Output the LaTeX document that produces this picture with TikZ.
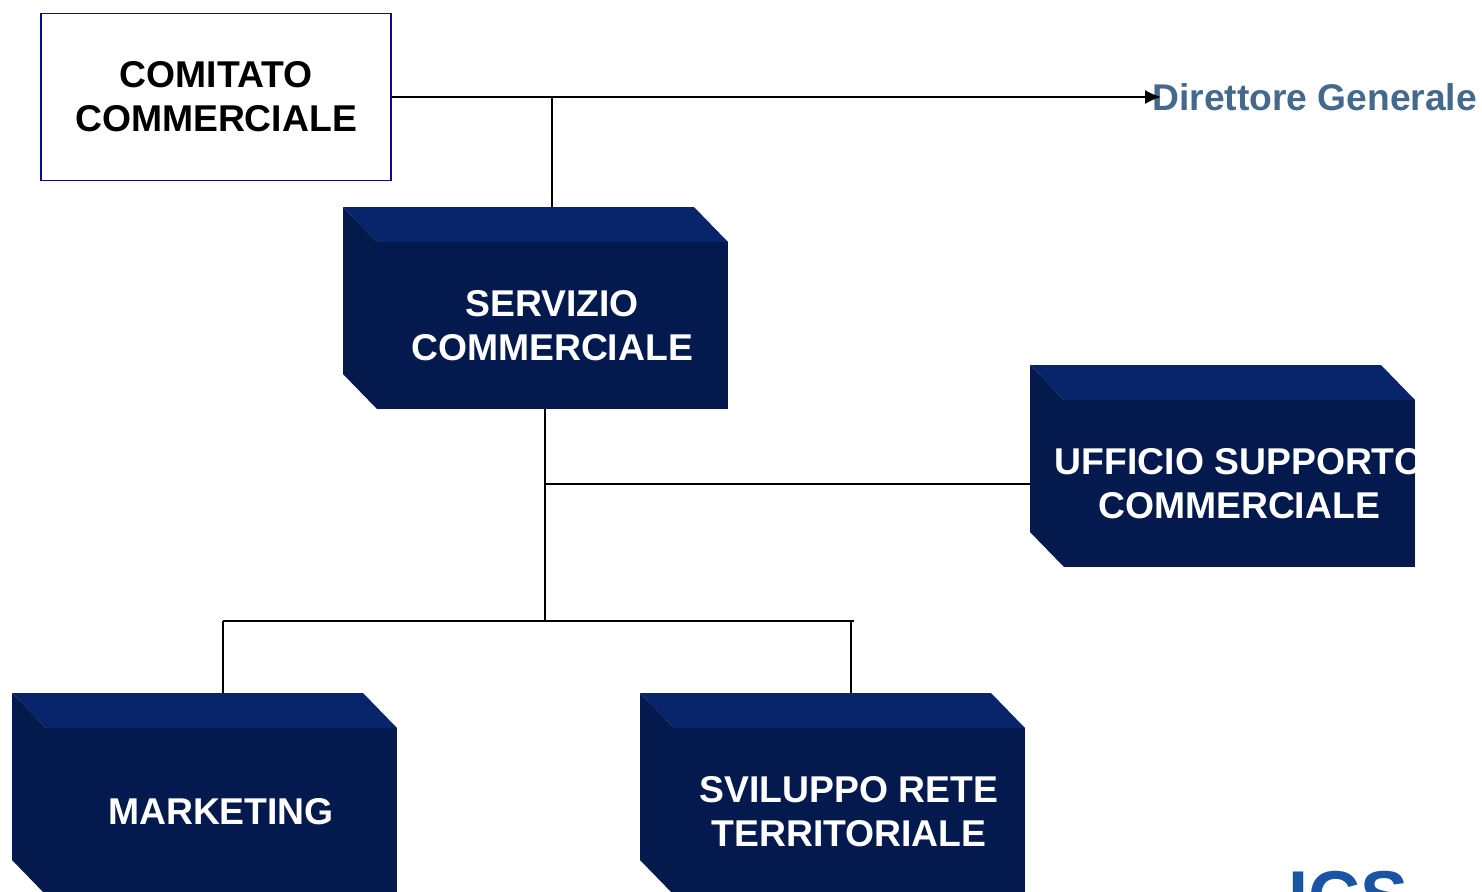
\documentclass[tikz,border=0pt]{standalone}
\usepackage{fontspec}
\setmainfont{Liberation Sans}
\usepackage{xcolor}
\definecolor{frontblue}{HTML}{041A4E}
\definecolor{topblue}{HTML}{08246B}
\definecolor{sideblue}{HTML}{051A4C}
\definecolor{framehue}{HTML}{0A0A96}
\definecolor{headhue}{HTML}{44698C}
\definecolor{logohue}{HTML}{1A55A5}
\usetikzlibrary{arrows.meta}
\tikzset{
	link/.style={draw=black, line width=0.8pt},
	blocklabel/.style={text=white, align=center, inner sep=0pt, font=\fontsize{18.65}{22}\selectfont\bfseries},
	framebox/.style={draw=framehue, line width=0.7pt, fill=white, text=black, align=center, inner sep=0pt,
			minimum width=175pt, minimum height=83.5pt, font=\fontsize{18.65}{22}\selectfont\bfseries},
	headlabel/.style={text=headhue, inner sep=0pt, font=\fontsize{18.6}{22}\selectfont\bfseries}
}
\newcommand{\blockbox}[4]{
	\path [fill=topblue] (#2,#3)--(#2+351,#3)--(#2+385,#3+35)--(#2+34,#3+35)--cycle;
	\path [fill=sideblue] (#2,#3)--(#2+34,#3+35)--(#2+34,#3+202)--(#2,#3+167)--cycle;
	\path [fill=frontblue] (#2+34,#3+35) rectangle (#2+385,#3+202);
	\node [blocklabel] (#1) at (#2+209,#3+119) {#4};
}

\begin{document}
\begin{tikzpicture}[x=0.5pt, y=-0.5pt]
	\useasboundingbox (0,0) rectangle (1482,891);

	\blockbox{servizio}{343}{207}{SERVIZIO\\COMMERCIALE}
	\blockbox{ufficio}{1030}{365}{UFFICIO SUPPORTO\\COMMERCIALE}
	\blockbox{marketing}{12}{693}{MARKETING}
	\blockbox{sviluppo}{640}{693}{SVILUPPO RETE\\TERRITORIALE}

	\node [framebox] (comitato) at (216,97) {COMITATO\\COMMERCIALE};
	\node [headlabel, anchor=west] (direttore) at (1152,97) {Direttore Generale};
	\node [anchor=north west, inner sep=0pt, text=logohue, font=\fontsize{36}{36}\selectfont\bfseries] (logo) at (1288,871) {ICS};

	\coordinate (arrowend) at (1161,97);
	\coordinate (branchtop) at (552,97);
	\coordinate (serviziotop) at (552,207);
	\coordinate (trunktop) at (545,409);
	\coordinate (trunkmid) at (545,484);
	\coordinate (trunkend) at (545,621);
	\coordinate (ufficioleft) at (1030,484);
	\coordinate (busleft) at (223,621);
	\coordinate (busright) at (854,621);
	\coordinate (drop) at (851,621);
	\coordinate (marketingtop) at (223,693);
	\coordinate (svilupptop) at (851,693);

	\draw [link, -{Latex[length=8pt,width=7pt]}] (comitato.east |- arrowend) -- (arrowend);
	\draw [link] (branchtop) -- (serviziotop);
	\draw [link] (trunktop) -- (trunkend);
	\draw [link] (trunkmid) -- (ufficioleft);
	\draw [link] (busleft) -- (busright);
	\draw [link] (busleft) -- (marketingtop);
	\draw [link] (drop) -- (svilupptop);
\end{tikzpicture}
\end{document}
